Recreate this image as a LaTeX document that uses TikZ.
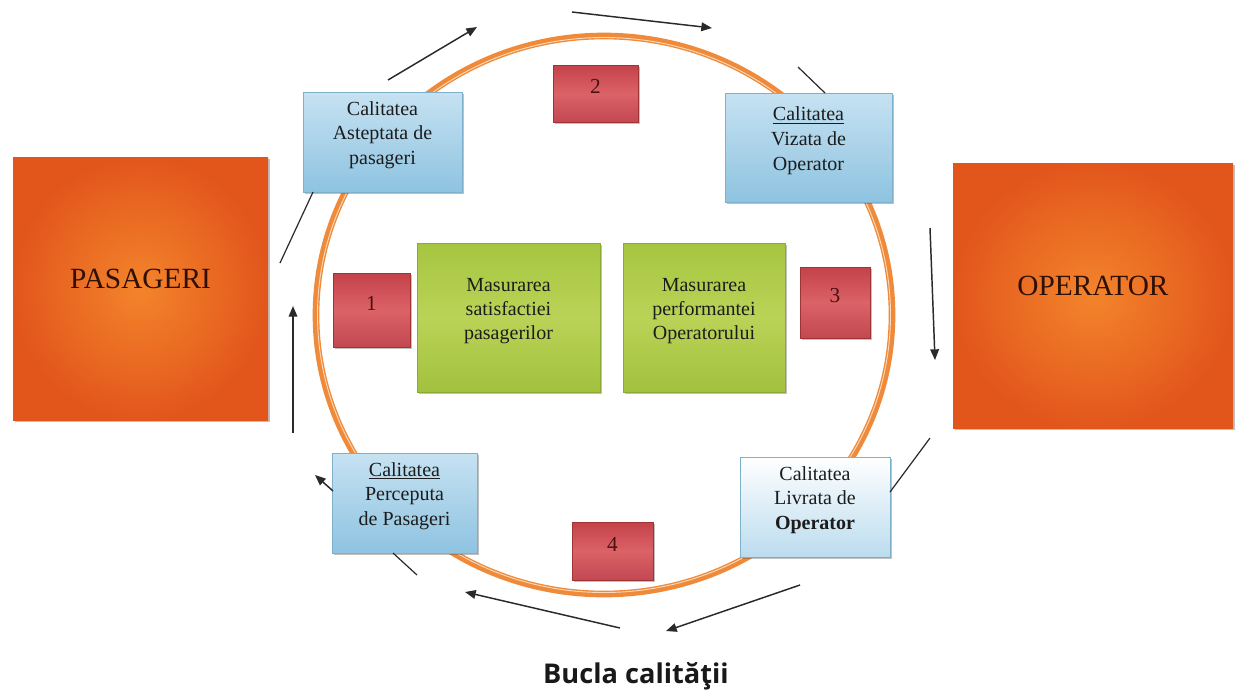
\documentclass[tikz,border=0pt]{standalone}
\usepackage{fontspec}
\setmainfont{Liberation Serif}
\newfontfamily\capfont{Open Sans}
\usetikzlibrary{arrows.meta,shadows,fit}
\definecolor{ringorange}{HTML}{EE8A3A}
\definecolor{ringlight}{HTML}{FBD9B8}
\definecolor{orangeIn}{HTML}{F3842B}
\definecolor{orangeOut}{HTML}{E2561C}
\definecolor{blueT}{HTML}{C6E2F2}
\definecolor{blueB}{HTML}{8EC3E0}
\definecolor{blueD}{HTML}{7EB0CC}
\definecolor{redT}{HTML}{C4424A}
\definecolor{redM}{HTML}{DB6266}
\definecolor{redB}{HTML}{C34852}
\definecolor{redD}{HTML}{9E3535}
\definecolor{greenT}{HTML}{A6C540}
\definecolor{greenM}{HTML}{BAD357}
\definecolor{greenB}{HTML}{A2C13E}
\definecolor{greenD}{HTML}{8DAA35}
\definecolor{inkbrown}{HTML}{2E1006}
\definecolor{inkgray}{HTML}{1C1C1C}
\definecolor{numink}{HTML}{4A1212}
\definecolor{arrowink}{HTML}{2A2A2A}
\begin{document}
\begin{tikzpicture}[x=0.75pt,y=-0.75pt,
  shade/.style={drop shadow={shadow xshift=1.2pt,shadow yshift=-1.5pt,opacity=0.35,fill=black!70}},
  bigbox/.style={rectangle,inner sep=0pt,shading=radial,inner color=orangeIn,outer color=orangeOut,shade,
    font=\fontsize{22}{26}\selectfont,text=inkbrown},
  bluebox/.style={rectangle,inner sep=0pt,draw=blueD,line width=0.4pt,top color=blueT,bottom color=blueB,shade,
    align=center,font=\fontsize{15}{18.5}\selectfont,text=inkgray},
  whitebluebox/.style={bluebox,top color=white,bottom color=blueT!80!blueB},
  redbox/.style={rectangle,inner sep=0pt,draw=redD,line width=0.5pt,top color=redT,bottom color=redB,middle color=redM,shade,
    font=\fontsize{16}{18}\selectfont,text=numink},
  greenbox/.style={rectangle,inner sep=0pt,draw=greenD,line width=0.4pt,top color=greenT,bottom color=greenB,middle color=greenM,shade,
    align=center,font=\fontsize{15}{18}\selectfont,text=inkgray},
  conn/.style={draw=arrowink,line width=1.1pt,-{Triangle[length=8pt,width=6.5pt]}},
  link/.style={draw=arrowink,line width=0.9pt}
]
\useasboundingbox (0,0) rectangle (1241,690);
\fill[white] (0,0) rectangle (1241,690);

% ring
\draw[ringorange,line width=5pt] (604,315) ellipse [x radius=288, y radius=279];
\draw[ringlight,line width=0.7pt] (604,315) ellipse [x radius=286.5, y radius=277.5];

% big boxes
\node[bigbox,fit={(13,157) (268,420)}] (pas) {PASAGERI};
\node[bigbox,fit={(953,163) (1233,428)}] (op) {OPERATOR};

% blue boxes
\node[bluebox,fit={(303,92) (462,192)}] (asteptata) {Calitatea\\Asteptata de\\pasageri};
\node[bluebox,fit={(725,93) (892,202)}] (vizata) {\underline{Calitatea}\\Vizata de\\Operator};
\node[bluebox,fit={(332,453) (477,553)}] (perceputa) {\underline{Calitatea}\\Perceputa\\de Pasageri};
\node[whitebluebox,fit={(740,457) (890,557)}] (livrata) {Calitatea\\Livrata de\\\textbf{Operator}};

% red boxes
\node[redbox,fit={(333,273) (410,347)}] (r1) {1};
\node[redbox,fit={(553,65) (638,122)}] (r2) {2};
\node[redbox,fit={(800,267) (870,338)}] (r3) {3};
\node[redbox,fit={(572,522) (653,580)}] (r4) {4};

% green boxes
\node[greenbox,fit={(417,243) (600,392)}] (g1) {Masurarea\\satisfactiei\\pasagerilor};
\node[greenbox,fit={(623,243) (785,392)}] (g2) {Masurarea\\performantei\\Operatorului};

% connector ends
\coordinate (a1s) at (388,80);   \coordinate (a1e) at (477,27);
\coordinate (a2s) at (572,12);   \coordinate (a2e) at (712,28);
\coordinate (l1s) at (798,67);   \coordinate (l1e) at (825,93);
\coordinate (a3s) at (930,228);  \coordinate (a3e) at (935,360);
\coordinate (l2s) at (930,438);  \coordinate (l2e) at (890,492);
\coordinate (a4s) at (800,585);  \coordinate (a4e) at (666,631);
\coordinate (a5s) at (620,628);  \coordinate (a5e) at (465,592);
\coordinate (l3s) at (393,553);  \coordinate (l3e) at (417,575);
\coordinate (a6s) at (333,491);  \coordinate (a6e) at (315,475);
\coordinate (a7s) at (293,433);  \coordinate (a7e) at (293,306);
\coordinate (l4s) at (280,263);  \coordinate (l4e) at (313,192);

\draw[conn] (a1s) -- (a1e);
\draw[conn] (a2s) -- (a2e);
\draw[link] (l1s) -- (l1e);
\draw[conn] (a3s) -- (a3e);
\draw[link] (l2s) -- (l2e);
\draw[conn] (a4s) -- (a4e);
\draw[conn] (a5s) -- (a5e);
\draw[link] (l3s) -- (l3e);
\draw[conn] (a6s) -- (a6e);
\draw[conn] (a7s) -- (a7e);
\draw[link] (l4s) -- (l4e);

% caption
\node[anchor=base,inner sep=0pt,font={\capfont\bfseries\fontsize{20.4}{24}\selectfont},text=black!90] (cap) at (636,683) {Bucla calităţii};
\end{tikzpicture}
\end{document}
